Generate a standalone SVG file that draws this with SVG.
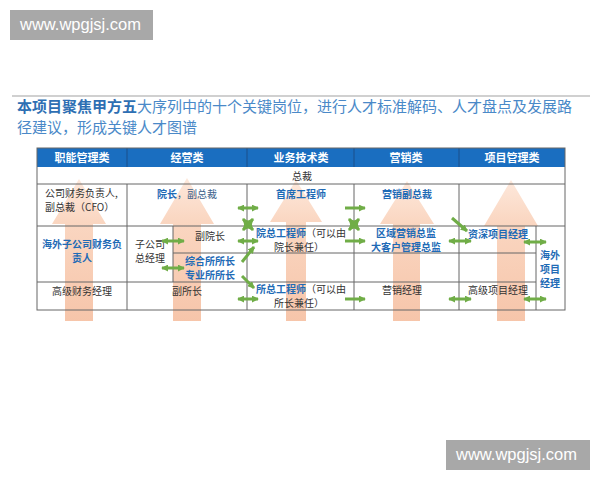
<svg xmlns="http://www.w3.org/2000/svg" width="600" height="480" viewBox="0 0 600 480">
<style>
.wm{fill:#a8a8a8}
.wmt{font-family:"Liberation Sans",Arial,sans-serif;font-size:16.5px;fill:#ffffff}
.ttl{font-family:"Noto Sans CJK SC",sans-serif;font-size:15px;fill:#4a89c8}
.ttlb{font-weight:bold;fill:#2e6fb3}
.hd{font-family:"Noto Sans CJK SC",sans-serif;font-size:11px;font-weight:bold;fill:#ffffff;text-anchor:middle}
.t{font-family:"Noto Sans CJK SC",sans-serif;font-size:10px;fill:#333333}
.c{text-anchor:middle}
.b{font-weight:bold;fill:#1f6bb6}
.grid{stroke:#666666;stroke-width:1;fill:none}
.up{fill:url(#og);opacity:0.85}
.g{stroke:#70ad47;stroke-width:3;fill:none}
.dbl{marker-start:url(#ah);marker-end:url(#ah)}
.sgl{marker-end:url(#ah)}
</style>
<defs>
<linearGradient id="og" x1="0" y1="0" x2="0" y2="1">
<stop offset="0" stop-color="#fde4d5"/>
<stop offset="0.3" stop-color="#f9cfb6"/>
<stop offset="1" stop-color="#f5bb9b"/>
</linearGradient>
<marker id="ah" viewBox="0 0 8 8" refX="7" refY="4" markerWidth="7" markerHeight="7" markerUnits="userSpaceOnUse" orient="auto-start-reverse">
<path d="M0,0 L8,4 L0,8 Z" fill="#70ad47"/>
</marker>
</defs>
<rect width="600" height="480" fill="#ffffff"/>

<g id="watermark-top">
<rect class="wm" x="10" y="10" width="143" height="30"/>
<text class="wmt" x="20" y="30">www.wpgjsj.com</text>
</g>
<g id="watermark-bottom">
<rect class="wm" x="446" y="440" width="144" height="30"/>
<text class="wmt" x="456" y="460">www.wpgjsj.com</text>
</g>

<line x1="12" y1="96" x2="590" y2="96" stroke="#d0d0d0" stroke-width="2"/>
<g id="title">
<text class="ttl" x="17" y="112"><tspan class="ttlb">本项目聚焦甲方五</tspan>大序列中的十个关键岗位，进行人才标准解码、人才盘点及发展路</text>
<text class="ttl" x="17" y="133">径建议，形成关键人才图谱</text>
</g>

<g id="up-arrows">
<path class="up" d="M79,179 L106,224 L93,224 L93,321 L65,321 L65,224 L52,224 Z"/>
<path class="up" d="M187,178 L214,224 L201,224 L201,321 L173,321 L173,224 L160,224 Z"/>
<path class="up" d="M296,180 L322,222 L306,222 L306,321 L286,321 L286,222 L270,222 Z"/>
<path class="up" d="M407,181 L434,224 L420,224 L420,321 L393,321 L393,224 L380,224 Z"/>
<path class="up" d="M511,180 L538,226 L525,226 L525,321 L497,321 L497,226 L484,226 Z"/>
</g>

<g id="table">
<rect x="37" y="148" width="528" height="19" fill="#1a6ec0"/>
<g stroke="#1a4f8a" stroke-width="1">
<line x1="127" y1="148" x2="127" y2="167"/>
<line x1="247" y1="148" x2="247" y2="167"/>
<line x1="354" y1="148" x2="354" y2="167"/>
<line x1="459" y1="148" x2="459" y2="167"/>
</g>
<rect class="grid" x="37" y="148" width="528" height="162"/>
<line class="grid" x1="37" y1="184" x2="565" y2="184"/>
<line class="grid" x1="37" y1="226" x2="565" y2="226"/>
<line class="grid" x1="173" y1="253" x2="536" y2="253"/>
<line class="grid" x1="37" y1="282" x2="536" y2="282"/>
<line class="grid" x1="127" y1="184" x2="127" y2="310"/>
<line class="grid" x1="247" y1="184" x2="247" y2="310"/>
<line class="grid" x1="354" y1="184" x2="354" y2="310"/>
<line class="grid" x1="459" y1="184" x2="459" y2="310"/>
<line class="grid" x1="173" y1="226" x2="173" y2="282"/>
<line class="grid" x1="536" y1="226" x2="536" y2="310"/>
</g>

<g id="headers">
<text class="hd" x="82" y="162">职能管理类</text>
<text class="hd" x="187" y="162">经营类</text>
<text class="hd" x="301" y="162">业务技术类</text>
<text class="hd" x="406" y="162">营销类</text>
<text class="hd" x="512" y="162">项目管理类</text>
</g>

<g id="node-zongcai"><text class="t c" x="302" y="180">总裁</text></g>

<g id="node-cfo">
<text class="t" x="45" y="197">公司财务负责人,</text>
<text class="t" x="45" y="211">副总裁（CFO）</text>
</g>
<g id="node-yuanzhang"><text class="t c" x="187" y="198"><tspan class="b">院长</tspan><tspan fill="#3b5f8a">，副总裁</tspan></text></g>
<g id="node-shouxi"><text class="t c b" x="301" y="198">首席工程师</text></g>
<g id="node-yingxiao-vp"><text class="t c b" x="407" y="198">营销副总裁</text></g>

<g id="node-haiwai-cw">
<text class="t c b" x="82" y="248">海外子公司财务负</text>
<text class="t c b" x="82" y="262">责人</text>
</g>
<g id="node-zigongsi">
<text class="t c" x="150" y="248">子公司</text>
<text class="t c" x="150" y="262">总经理</text>
</g>
<g id="node-fuyuanzhang"><text class="t c" x="210" y="240">副院长</text></g>
<g id="node-suozhang">
<text class="t c b" x="210" y="265">综合所所长</text>
<text class="t c b" x="210" y="279">专业所所长</text>
</g>
<g id="node-yuanzong">
<text class="t c" x="301" y="237"><tspan class="b">院总工程师</tspan>（可以由</text>
<text class="t c" x="299" y="251">院长兼任）</text>
</g>
<g id="node-quyu">
<text class="t c b" x="406" y="237">区域营销总监</text>
<text class="t c b" x="406" y="251">大客户管理总监</text>
</g>
<g id="node-zishen"><text class="t c b" x="498" y="238">资深项目经理</text></g>
<g id="node-haiwai-xm">
<text class="t c b" x="550" y="259">海外</text>
<text class="t c b" x="550" y="273">项目</text>
<text class="t c b" x="550" y="287">经理</text>
</g>

<g id="node-gaojicw"><text class="t c" x="82" y="295">高级财务经理</text></g>
<g id="node-fusuozhang"><text class="t c" x="187" y="295">副所长</text></g>
<g id="node-suozong">
<text class="t c" x="301" y="293"><tspan class="b">所总工程师</tspan>（可以由</text>
<text class="t c" x="299" y="307">所长兼任）</text>
</g>
<g id="node-yingxiaojl"><text class="t c" x="402" y="294">营销经理</text></g>
<g id="node-gaojixm"><text class="t c" x="498" y="294">高级项目经理</text></g>

<g id="connectors">
<line class="g dbl" x1="238" y1="208" x2="258" y2="208"/>
<line class="g dbl" x1="243" y1="219" x2="253" y2="230"/>
<line class="g dbl" x1="253" y1="219" x2="243" y2="230"/>
<line class="g dbl" x1="238" y1="241" x2="258" y2="241"/>
<line class="g sgl" x1="242" y1="262" x2="254" y2="247"/>
<line class="g sgl" x1="242" y1="276" x2="254" y2="288"/>
<line class="g dbl" x1="238" y1="299" x2="258" y2="299"/>
<line class="g dbl" x1="162" y1="241" x2="184" y2="241"/>
<line class="g dbl" x1="162" y1="268" x2="184" y2="268"/>
<line class="g sgl" x1="345" y1="208" x2="365" y2="208"/>
<line class="g dbl" x1="349" y1="219" x2="359" y2="230"/>
<line class="g dbl" x1="359" y1="219" x2="349" y2="230"/>
<line class="g sgl" x1="345" y1="241" x2="365" y2="241"/>
<line class="g sgl" x1="345" y1="299" x2="365" y2="299"/>
<line class="g sgl" x1="452" y1="218" x2="467" y2="231"/>
<line class="g dbl" x1="449" y1="241" x2="471" y2="241"/>
<line class="g dbl" x1="449" y1="299" x2="471" y2="299"/>
<line class="g dbl" x1="524" y1="242" x2="546" y2="242"/>
<line class="g dbl" x1="524" y1="299" x2="546" y2="299"/>
</g>
</svg>
